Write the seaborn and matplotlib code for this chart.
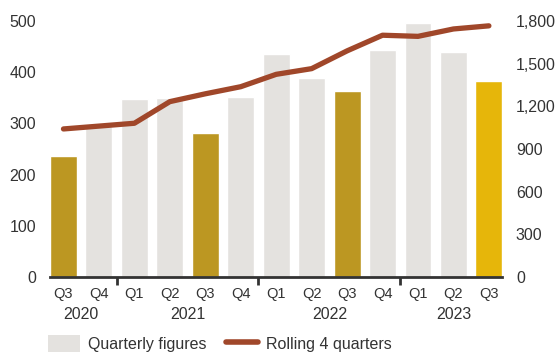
import matplotlib
matplotlib.use("Agg")
import matplotlib.pyplot as plt
import seaborn as sns
import pandas as pd
from matplotlib.patches import Patch
from matplotlib.lines import Line2D

periods = ["2020 Q3", "2020 Q4", "2021 Q1", "2021 Q2", "2021 Q3", "2021 Q4",
           "2022 Q1", "2022 Q2", "2022 Q3", "2022 Q4", "2023 Q1", "2023 Q2", "2023 Q3"]
quarter_labels = ["Q3", "Q4", "Q1", "Q2", "Q3", "Q4", "Q1", "Q2", "Q3", "Q4", "Q1", "Q2", "Q3"]
quarterly = [236, 294, 348, 349, 281, 352, 436, 389, 364, 443, 496, 439, 383]
rolling = [1041, 1061, 1081, 1233, 1288, 1338, 1425, 1465, 1590, 1700, 1692, 1744, 1766]
years = ["2020", "2021", "2022", "2023"]
year_centers = [0.5, 3.5, 7.5, 11.0]
year_separators = [1.5, 5.5, 9.5]

GRAY = "#e4e2df"
GOLD = "#bc9722"
YELLOW = "#e6b60a"
RUST = "#a0472a"
colors = [GOLD if q == "Q3" else GRAY for q in quarter_labels]
colors[-1] = YELLOW

sns.set_theme(style="white")
plt.rcParams["font.family"] = ["Liberation Sans", "DejaVu Sans"]
plt.rcParams["text.color"] = "#333333"

df = pd.DataFrame({"period": periods, "value": quarterly, "rolling": rolling})
df["pos"] = range(len(df))

fig = plt.figure(figsize=(5.58, 3.52), dpi=100)
ax = fig.add_axes([50 / 558, 1 - 277 / 352, 452 / 558, (277 - 21) / 352])
sns.barplot(data=df, x="period", y="value", hue="period", palette=colors,
            legend=False, width=0.76, saturation=1, ax=ax)
ax.set_xlim(-0.38, 12.37)
ax.set_ylim(0, 500)
ax.set_yticks([0, 100, 200, 300, 400, 500])
ax.set_xlabel("")
ax.set_ylabel("")
ax.set_xticks(range(len(quarter_labels)))
ax.set_xticklabels(quarter_labels)
ax.set_xticks(year_separators, minor=True)
ax.tick_params(axis="x", which="major", length=0, pad=7, labelsize=10.5, colors="#333333")
ax.tick_params(axis="x", which="minor", length=6, width=2, direction="out",
               color="#333333", bottom=True)
ax.tick_params(axis="y", length=0, pad=10, labelsize=11.5, colors="#333333")
for s in ["left", "right", "top"]:
    ax.spines[s].set_visible(False)
ax.spines["bottom"].set_color("#333333")
ax.spines["bottom"].set_linewidth(2)

for yl, xc in zip(years, year_centers):
    ax.text(xc, -0.145, yl, transform=ax.get_xaxis_transform(), ha="center",
            va="center", fontsize=11.5, color="#333333")

ax2 = ax.twinx()
sns.lineplot(data=df, x="pos", y="rolling", color=RUST, linewidth=3.8, ax=ax2,
             solid_capstyle="round")
ax2.set_ylim(0, 1800)
ax2.set_xlim(-0.38, 12.37)
ax2.set_yticks([0, 300, 600, 900, 1200, 1500, 1800])
ax2.set_yticklabels(["0", "300", "600", "900", "1,200", "1,500", "1,800"])
ax2.set_ylabel("")
ax2.set_xlabel("")
ax2.tick_params(axis="y", length=0, pad=10, labelsize=11.5, colors="#333333")
for s in ["left", "right", "top", "bottom"]:
    ax2.spines[s].set_visible(False)

handles = [Patch(facecolor=GRAY, edgecolor="none"),
           Line2D([0], [0], color=RUST, linewidth=4)]
fig.legend(handles, ["Quarterly figures", "Rolling 4 quarters"], loc="center left",
           bbox_to_anchor=(48 / 558, 1 - 344 / 352), ncol=2, frameon=False,
           fontsize=11.5, handlelength=2.0, handleheight=1.3, handletextpad=0.5,
           columnspacing=1.2, borderaxespad=0, borderpad=0)

fig.savefig("out.png", dpi=100)
